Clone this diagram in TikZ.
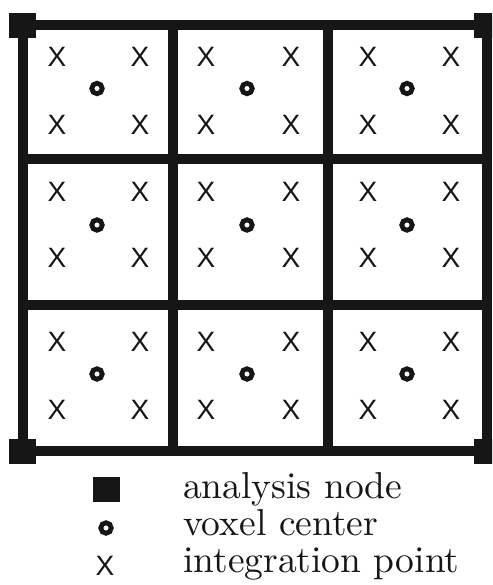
\documentclass[tikz,border=0pt]{standalone}
\usepackage{fontspec}
\setsansfont{Liberation Sans}
\newfontfamily\legfont{lmroman10-regular.otf}
\definecolor{ink}{HTML}{161616}
\begin{document}
\begin{tikzpicture}[x=1pt,y=-1pt,
  gridline/.style={line width=10pt, draw=ink, line cap=rect},
  anode/.style={fill=ink, minimum width=27pt, minimum height=25pt, inner sep=0pt, draw=none},
  vox/.style={circle, draw=ink, line width=4.8pt, minimum size=10.5pt, inner sep=0pt},
  ipt/.style={font=\sffamily\fontsize{28}{28}\selectfont, text=ink, inner sep=0pt},
  legtext/.style={font=\legfont\fontsize{37.5}{40}\selectfont, text=ink, anchor=base west, inner sep=0pt}]
\useasboundingbox (0,0) rectangle (492,585);
\clip (0,0) rectangle (492,585);
% grid corners
\coordinate (tl) at (22.5,25.5);
\coordinate (tr) at (487,25.5);
\coordinate (bl) at (22.5,451);
\coordinate (br) at (487,451);
\coordinate (v1t) at (173,25.5);
\coordinate (v1b) at (173,451);
\coordinate (v2t) at (328,25.5);
\coordinate (v2b) at (328,451);
\coordinate (h1l) at (22.5,159);
\coordinate (h1r) at (487,159);
\coordinate (h2l) at (22.5,305);
\coordinate (h2r) at (487,305);
\draw[gridline] (tl) -- (tr) -- (br) -- (bl) -- cycle;
\draw[gridline] (v1t) -- (v1b);
\draw[gridline] (v2t) -- (v2b);
\draw[gridline] (h1l) -- (h1r);
\draw[gridline] (h2l) -- (h2r);
% analysis nodes
\node[anode] (ntl) at (tl) {};
\node[anode] (ntr) at (tr) {};
\node[anode] (nbl) at (bl) {};
\node[anode] (nbr) at (br) {};
% integration points and voxel centers
\foreach \xa/\xb/\xc [count=\i] in {57/140/97, 206/291/247, 368/451/407}{
  \foreach \ya/\yb/\yc [count=\j] in {57/125/88.5, 192/258/225, 342/410/374}{
    \node[ipt] (x-\i-\j-a) at (\xa,\ya) {X};
    \node[ipt] (x-\i-\j-b) at (\xb,\ya) {X};
    \node[ipt] (x-\i-\j-c) at (\xa,\yb) {X};
    \node[ipt] (x-\i-\j-d) at (\xb,\yb) {X};
    \node[vox] (v-\i-\j) at (\xc,\yc) {};
  }
}
% legend
\node[anode] (lg1) at (106,489) {};
\node[vox] (lg2) at (106,528) {};
\node[ipt] (lg3) at (105,566) {X};
\node[legtext] (lt1) at (183,498) {analysis node};
\node[legtext] (lt2) at (183,535) {voxel center};
\node[legtext] (lt3) at (183,572) {integration point};
\end{tikzpicture}
\end{document}
